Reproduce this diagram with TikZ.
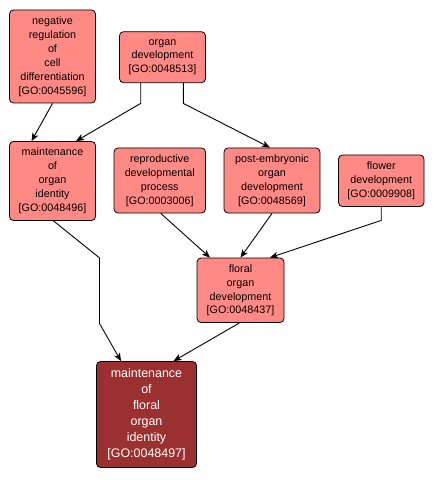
\documentclass[tikz,border=0pt]{standalone}
\usepackage{fontspec}
\setmainfont{Liberation Sans}
\usetikzlibrary{arrows.meta}
\definecolor{golight}{RGB}{255,138,133}
\definecolor{godark}{RGB}{155,48,48}
\tikzset{
  goterm/.style={draw=black, line width=0.8bp, fill=golight, rounded corners=4bp,
    align=center, inner sep=0pt, font=\fontsize{10.8}{14}\selectfont},
  goquery/.style={goterm, fill=godark, text=white, font=\fontsize{12.5}{16}\selectfont},
  golink/.style={draw=black, line width=0.9bp, -{Stealth[length=8bp,width=6.5bp,inset=2bp]}}
}
\begin{document}
\begin{tikzpicture}[x=1bp,y=-1bp]
\useasboundingbox (0,0) rectangle (435,480);
\node[goterm, minimum width=86bp, minimum height=93bp] (A) at (52.5,56.5)
  {negative\\regulation\\of\\cell\\differentiation\\{[GO:0045596]}};
\node[goterm, minimum width=86bp, minimum height=51bp] (B) at (162.5,57.2)
  {organ\\development\\{[GO:0048513]}};
\node[goterm, minimum width=86bp, minimum height=79bp] (C) at (52.5,181)
  {maintenance\\of\\organ\\identity\\{[GO:0048496]}};
\node[goterm, minimum width=91.5bp, minimum height=65bp] (D) at (159.75,180.5)
  {reproductive\\developmental\\process\\{[GO:0003006]}};
\node[goterm, minimum width=96bp, minimum height=65bp] (E) at (272,180.5)
  {post-embryonic\\organ\\development\\{[GO:0048569]}};
\node[goterm, minimum width=85.5bp, minimum height=51.5bp] (F) at (381.25,180.75)
  {flower\\development\\{[GO:0009908]}};
\node[goterm, minimum width=87bp, minimum height=64.5bp] (G) at (240.5,290.25)
  {floral\\organ\\development\\{[GO:0048437]}};
\node[goquery, minimum width=100bp, minimum height=106bp] (H) at (146.5,414.5)
  {maintenance\\of\\floral\\organ\\identity\\{[GO:0048497]}};

\draw[golink] (A.south) -- ([xshift=-21bp]C.north);
\draw[golink] ([xshift=-21.8bp]B.south) -- ++(0,20.3) -- ([xshift=23.5bp]C.north);
\draw[golink] ([xshift=20.8bp]B.south) -- ++(0,20.3) -- ([xshift=-2bp]E.north);
\draw[golink] ([xshift=1bp]C.south) -- ++(46,37) -- ++(0,65.6) -- ([xshift=-25.5bp]H.north);
\draw[golink] ([xshift=1bp]D.south) -- ([xshift=-30.5bp]G.north);
\draw[golink] (E.south) -- (G.north);
\draw[golink] (F.south) -- ++(0,13.5) -- ([xshift=29.5bp]G.north);
\draw[golink] ([xshift=-1bp]G.south) -- ([xshift=27bp]H.north);
\end{tikzpicture}
\end{document}
